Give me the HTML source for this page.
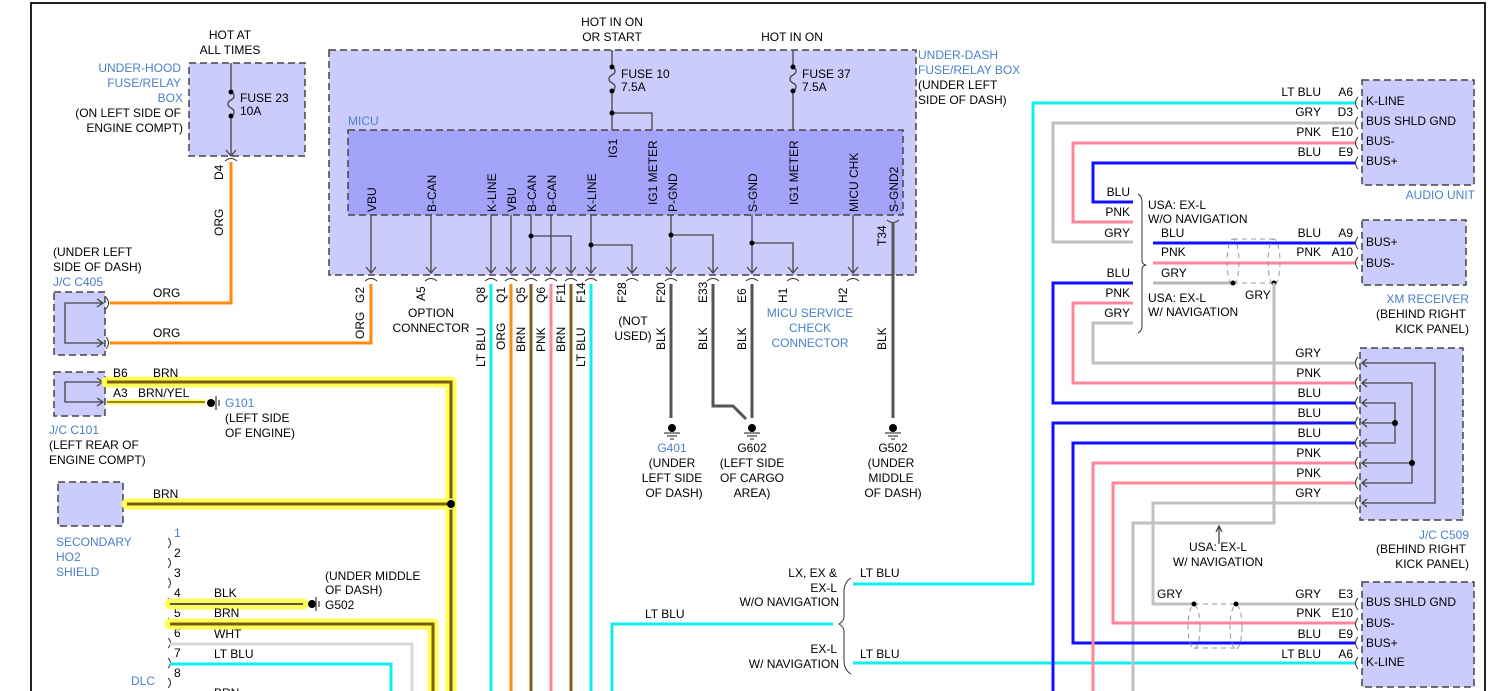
<!DOCTYPE html>
<html><head><meta charset="utf-8"><style>
html,body{margin:0;padding:0;background:#fff}
svg{display:block}
text{font-family:"Liberation Sans",Arial,sans-serif;font-size:12px;fill:#000}
.b{fill:#4a80c8}
.w{fill:none;stroke-width:3;stroke-linejoin:miter}
.t{fill:none;stroke:#444;stroke-width:1.3}
.box{fill:#ccccfc;stroke:#444;stroke-width:1.5;stroke-dasharray:7 4}
.hl{fill:none;stroke:#ffff55;stroke-width:11;stroke-linecap:round;stroke-linejoin:round}
.hc{fill:none;stroke:#7a5c10;stroke-width:3}
.c{fill:none;stroke:#333;stroke-width:1}
</style></head><body>
<svg width="1497" height="691" viewBox="0 0 1497 691" xmlns="http://www.w3.org/2000/svg">
<rect x="0" y="0" width="1497" height="691" fill="#fff"/>
<path d="M31 691V3H1485V691" fill="none" stroke="#222" stroke-width="2"/>

<rect class="box" x="189" y="63" width="116" height="93"/>
<text x="230" y="39" text-anchor="middle">HOT AT</text>
<text x="230" y="54" text-anchor="middle">ALL TIMES</text>
<text class="b" x="181" y="72" text-anchor="end">UNDER-HOOD</text>
<text class="b" x="181" y="87" text-anchor="end">FUSE/RELAY</text>
<text class="b" x="183" y="102" text-anchor="end">BOX</text>
<text x="181" y="117" text-anchor="end">(ON LEFT SIDE OF</text>
<text x="183" y="132" text-anchor="end">ENGINE COMPT)</text>
<path class="t" d="M231 63V92M231 116V156M226 150l5 6l5-6"/>
<path class="t" d="M231 92c4 2 4 6 0 8c-4 2-4 6 0 8c4 2 4 6 0 8"/>
<circle cx="231" cy="92" r="2.5"/><circle cx="231" cy="116" r="2.5"/>
<text x="240" y="102">FUSE 23</text><text x="240" y="115">10A</text>
<path class="c" d="M225 161q6 -5 12 0"/>
<text transform="translate(223,180) rotate(-90)">D4</text>
<text transform="translate(223,236) rotate(-90)">ORG</text>
<path class="w" stroke="#ff8a10" d="M231 162V303H110"/>
<path class="w" stroke="#ff8a10" d="M110 343H371V284"/>
<text x="153" y="297">ORG</text><text x="153" y="337">ORG</text>

<text x="53" y="256">(UNDER LEFT</text>
<text x="53" y="271">SIDE OF DASH)</text>
<text class="b" x="53" y="286">J/C C405</text>
<rect class="box" x="54" y="292" width="51" height="63"/>
<path class="t" d="M103 303H65V343H103M97 299l6 4l-6 4M97 339l6 4l-6 4"/>
<path class="c" d="M106 297q5 6 0 12M106 337q5 6 0 12"/>

<rect class="box" x="54" y="372" width="51" height="44"/>
<path class="t" d="M103 382H65V402H103M97 378l6 4l-6 4M97 398l6 4l-6 4"/>
<path class="hl" d="M107 382H451V691"/>
<path class="hc" d="M107 382H451V691"/>
<path fill="none" stroke="#ffff55" stroke-width="5" d="M107 402H205"/>
<path fill="none" stroke="#7a5c10" stroke-width="1.5" d="M107 402H205"/>
<circle cx="211" cy="403" r="4"/>
<path class="t" d="M216 396V410M219 400V406"/>
<text x="113" y="377">B6</text><text x="153" y="377">BRN</text>
<text x="113" y="397">A3</text><text x="138" y="397">BRN/YEL</text>
<text class="b" x="225" y="407">G101</text>
<text x="225" y="422">(LEFT SIDE</text><text x="225" y="437">OF ENGINE)</text>
<text class="b" x="49" y="434">J/C C101</text>
<text x="49" y="449">(LEFT REAR OF</text>
<text x="49" y="464">ENGINE COMPT)</text>

<rect class="box" x="58" y="482" width="65" height="44"/>
<path class="hl" d="M127 504H451"/>
<path class="hc" d="M127 504H451"/>
<circle cx="451" cy="504" r="4"/>
<text x="153" y="498">BRN</text>
<text class="b" x="56" y="546">SECONDARY</text>
<text class="b" x="56" y="561">HO2</text>
<text class="b" x="56" y="576">SHIELD</text>

<g class="c">
<path d="M168 538q5 5 0 10M168 558q5 5 0 10M168 578q5 5 0 10M168 598q5 5 0 10M168 618q5 5 0 10M168 638q5 5 0 10M168 658q5 5 0 10M168 678q5 5 0 10"/>
</g>
<text x="174" y="537" class="b">1</text><text x="174" y="557">2</text><text x="174" y="577">3</text><text x="174" y="597">4</text>
<text x="174" y="617">5</text><text x="174" y="637">6</text><text x="174" y="657">7</text><text x="174" y="677">8</text>
<path class="hl" d="M170 604H303"/>
<path fill="none" stroke="#555" stroke-width="2" d="M170 604H303"/>
<circle cx="312" cy="604" r="4"/><path class="t" d="M316 597V611M319 601V607"/>
<text x="214" y="597">BLK</text><text x="325" y="580">(UNDER MIDDLE</text><text x="325" y="594">OF DASH)</text><text x="325" y="609">G502</text>
<path class="hl" d="M170 624H433V691"/>
<path class="hc" d="M170 624H433V691"/>
<text x="214" y="617">BRN</text>
<path class="w" stroke="#d8d8d8" d="M170 644H412V691"/>
<text x="214" y="638">WHT</text>
<path class="w" stroke="#11eeee" d="M170 664H391V691"/>
<text x="214" y="658">LT BLU</text>
<text class="b" x="155" y="685" text-anchor="end">DLC</text>
<text x="214" y="697">BRN</text>

<rect class="box" x="329" y="50" width="587" height="225"/>
<text x="612" y="26" text-anchor="middle">HOT IN ON</text>
<text x="612" y="41" text-anchor="middle">OR START</text>
<text x="792" y="41" text-anchor="middle">HOT IN ON</text>
<text class="b" x="918" y="59">UNDER-DASH</text>
<text class="b" x="918" y="74">FUSE/RELAY BOX</text>
<text x="918" y="89">(UNDER LEFT</text>
<text x="918" y="104">SIDE OF DASH)</text>
<text class="b" x="348" y="125">MICU</text>
<rect x="348" y="130" width="555" height="85" fill="#a3a3fa" stroke="#444" stroke-width="1.5" stroke-dasharray="7 4"/>
<path class="t" d="M612 50V67M612 91V130M612 113H652V130"/>
<path class="t" d="M612 67c4 2 4 6 0 8c-4 2-4 6 0 8c4 2 4 6 0 8"/>
<circle cx="612" cy="67" r="2.5"/><circle cx="612" cy="91" r="2.5"/><circle cx="612" cy="113" r="2.5"/>
<text x="621" y="78">FUSE 10</text><text x="621" y="91">7.5A</text>
<path class="t" d="M793 50V67M793 91V130"/>
<path class="t" d="M793 67c4 2 4 6 0 8c-4 2-4 6 0 8c4 2 4 6 0 8"/>
<circle cx="793" cy="67" r="2.5"/><circle cx="793" cy="91" r="2.5"/>
<text x="802" y="78">FUSE 37</text><text x="802" y="91">7.5A</text>
<g>
<text transform="translate(376,212) rotate(-90)">VBU</text>
<text transform="translate(436,212) rotate(-90)">B-CAN</text>
<text transform="translate(496,212) rotate(-90)">K-LINE</text>
<text transform="translate(516,212) rotate(-90)">VBU</text>
<text transform="translate(536,212) rotate(-90)">B-CAN</text>
<text transform="translate(556,212) rotate(-90)">B-CAN</text>
<text transform="translate(596,212) rotate(-90)">K-LINE</text>
<text transform="translate(617,158) rotate(-90)">IG1</text>
<text transform="translate(657,205) rotate(-90)">IG1 METER</text>
<text transform="translate(677,212) rotate(-90)">P-GND</text>
<text transform="translate(757,212) rotate(-90)">S-GND</text>
<text transform="translate(798,205) rotate(-90)">IG1 METER</text>
<text transform="translate(858,212) rotate(-90)">MICU CHK</text>
<text transform="translate(898,212) rotate(-90)">S-GND2</text>
</g>
<path class="t" d="M371 215V273M431 215V273M491 215V273M511 215V273M531 215V273M551 215V273M591 215V273M671 215V273M752 215V273M853 215V273
M531 236H571V273M591 245H632V273M671 235H713V273M752 243H793V273"/>
<circle cx="531" cy="236" r="2.5"/><circle cx="591" cy="245" r="2.5"/><circle cx="671" cy="235" r="2.5"/><circle cx="752" cy="243" r="2.5"/>
<path class="t" d="M366 267l5 6l5-6M426 267l5 6l5-6M486 267l5 6l5-6M506 267l5 6l5-6M526 267l5 6l5-6M546 267l5 6l5-6M566 267l5 6l5-6M586 267l5 6l5-6M627 267l5 6l5-6M666 267l5 6l5-6M708 267l5 6l5-6M747 267l5 6l5-6M788 267l5 6l5-6M848 267l5 6l5-6"/>
<path class="c" d="M365 281q6-5 12 0M425 281q6-5 12 0M485 281q6-5 12 0M505 281q6-5 12 0M525 281q6-5 12 0M545 281q6-5 12 0M565 281q6-5 12 0M585 281q6-5 12 0M626 281q6-5 12 0M665 281q6-5 12 0M707 281q6-5 12 0M746 281q6-5 12 0M787 281q6-5 12 0M847 281q6-5 12 0M887 220q6 5 12 0"/>
<text transform="translate(364,303) rotate(-90)">G2</text>
<text transform="translate(364,339) rotate(-90)">ORG</text>
<text transform="translate(425,301) rotate(-90)">A5</text>
<text x="431" y="317" text-anchor="middle">OPTION</text>
<text x="431" y="332" text-anchor="middle">CONNECTOR</text>
<text transform="translate(485,303) rotate(-90)">Q8</text>
<text transform="translate(505,303) rotate(-90)">Q1</text>
<text transform="translate(525,303) rotate(-90)">Q5</text>
<text transform="translate(545,303) rotate(-90)">Q6</text>
<text transform="translate(565,303) rotate(-90)">F11</text>
<text transform="translate(585,303) rotate(-90)">F14</text>
<text transform="translate(626,303) rotate(-90)">F28</text>
<text transform="translate(665,303) rotate(-90)">F20</text>
<text transform="translate(707,303) rotate(-90)">E33</text>
<text transform="translate(746,303) rotate(-90)">E6</text>
<text transform="translate(787,303) rotate(-90)">H1</text>
<text transform="translate(847,303) rotate(-90)">H2</text>
<text transform="translate(886,246) rotate(-90)">T34</text>
<text transform="translate(485,367) rotate(-90)">LT BLU</text>
<text transform="translate(505,350) rotate(-90)">ORG</text>
<text transform="translate(525,352) rotate(-90)">BRN</text>
<text transform="translate(545,352) rotate(-90)">PNK</text>
<text transform="translate(565,352) rotate(-90)">BRN</text>
<text transform="translate(585,367) rotate(-90)">LT BLU</text>
<text x="633" y="325" text-anchor="middle">(NOT</text><text x="633" y="340" text-anchor="middle">USED)</text>
<text transform="translate(665,350) rotate(-90)">BLK</text>
<text transform="translate(707,350) rotate(-90)">BLK</text>
<text transform="translate(746,350) rotate(-90)">BLK</text>
<text transform="translate(886,350) rotate(-90)">BLK</text>
<text class="b" x="810" y="317" text-anchor="middle">MICU SERVICE</text>
<text class="b" x="810" y="332" text-anchor="middle">CHECK</text>
<text class="b" x="810" y="347" text-anchor="middle">CONNECTOR</text>
<path class="w" stroke="#11eeee" d="M491 284V691"/>
<path class="w" stroke="#ff8a10" d="M511 284V691"/>
<path class="w" stroke="#806020" d="M531 284V691"/>
<path class="w" stroke="#ff8599" d="M551 284V691"/>
<path class="w" stroke="#806020" d="M571 284V691"/>
<path class="w" stroke="#11eeee" d="M591 284V691"/>
<path class="w" stroke="#555" d="M671 284V418"/>
<path class="w" stroke="#555" d="M713 284V406H733L746 419"/>
<path class="w" stroke="#555" d="M752 284V418"/>
<path class="w" stroke="#555" d="M893 222V418"/>
<g>
<circle cx="672" cy="428" r="4"/><path class="t" d="M664 433H680M667 436H677M670 439H674"/>
<circle cx="752" cy="428" r="4"/><path class="t" d="M744 433H760M747 436H757M750 439H754"/>
<circle cx="893" cy="428" r="4"/><path class="t" d="M885 433H901M888 436H898M891 439H895"/>
</g>
<text class="b" x="672" y="452" text-anchor="middle">G401</text>
<text x="672" y="467" text-anchor="middle">(UNDER</text><text x="672" y="482" text-anchor="middle">LEFT SIDE</text><text x="674" y="497" text-anchor="middle">OF DASH)</text>
<text x="752" y="452" text-anchor="middle">G602</text>
<text x="752" y="467" text-anchor="middle">(LEFT SIDE</text><text x="752" y="482" text-anchor="middle">OF CARGO</text><text x="752" y="497" text-anchor="middle">AREA)</text>
<text x="893" y="452" text-anchor="middle">G502</text>
<text x="891" y="467" text-anchor="middle">(UNDER</text><text x="891" y="482" text-anchor="middle">MIDDLE</text><text x="893" y="497" text-anchor="middle">OF DASH)</text>

<path class="w" stroke="#11eeee" d="M612 691V624H833"/>
<text x="645" y="618">LT BLU</text>
<path class="c" d="M851 578q-7 4-7 14V617q0 4-5 7q5 3 5 7V660q0 10 7 14"/>
<text x="837" y="577" text-anchor="end">LX, EX &amp;</text>
<text x="837" y="592" text-anchor="end">EX-L</text>
<text x="839" y="606" text-anchor="end">W/O NAVIGATION</text>
<text x="837" y="653" text-anchor="end">EX-L</text>
<text x="839" y="668" text-anchor="end">W/ NAVIGATION</text>
<path class="w" stroke="#11eeee" d="M853 584H1033V103H1355"/>
<text x="860" y="577">LT BLU</text>
<path class="w" stroke="#11eeee" d="M853 663H1355"/>
<text x="860" y="658">LT BLU</text>

<rect class="box" x="1362" y="80" width="112" height="105"/>
<text x="1366" y="105">K-LINE</text><text x="1366" y="125">BUS SHLD GND</text><text x="1366" y="145">BUS-</text><text x="1366" y="165">BUS+</text>
<text class="b" x="1475" y="199" text-anchor="end">AUDIO UNIT</text>
<path class="w" stroke="#c0c0c0" d="M1355 123H1053V242H1133"/>
<path class="w" stroke="#ff8599" d="M1355 143H1073V222H1133"/>
<path class="w" stroke="#1010ff" d="M1355 163H1093V202H1133"/>
<text x="1321" y="96" text-anchor="end">LT BLU</text><text x="1353" y="96" text-anchor="end">A6</text>
<text x="1321" y="116" text-anchor="end">GRY</text><text x="1353" y="116" text-anchor="end">D3</text>
<text x="1321" y="136" text-anchor="end">PNK</text><text x="1353" y="136" text-anchor="end">E10</text>
<text x="1321" y="156" text-anchor="end">BLU</text><text x="1353" y="156" text-anchor="end">E9</text>
<path class="c" d="M1358 97q-5 6 0 12M1358 117q-5 6 0 12M1358 137q-5 6 0 12M1358 157q-5 6 0 12"/>
<text x="1130" y="196" text-anchor="end">BLU</text><text x="1130" y="216" text-anchor="end">PNK</text><text x="1130" y="237" text-anchor="end">GRY</text>
<text x="1148" y="209">USA: EX-L</text><text x="1148" y="223">W/O NAVIGATION</text>
<path class="c" d="M1138 194q4 2 4 8V261q0 3 4 4q-4 1-4 4V326q0 5-4 7"/>
<rect class="box" x="1362" y="220" width="104" height="65"/>
<text x="1366" y="246">BUS+</text><text x="1366" y="267">BUS-</text>
<text class="b" x="1469" y="303" text-anchor="end">XM RECEIVER</text>
<text x="1466" y="318" text-anchor="end">(BEHIND RIGHT</text><text x="1469" y="333" text-anchor="end">KICK PANEL)</text>
<path class="w" stroke="#1010ff" d="M1153 243H1355"/>
<path class="w" stroke="#ff8599" d="M1153 263H1355"/>
<path class="w" stroke="#b8b8b8" d="M1153 283H1233"/>
<text x="1161" y="237">BLU</text><text x="1161" y="256">PNK</text><text x="1161" y="277">GRY</text>
<text x="1321" y="237" text-anchor="end">BLU</text><text x="1353" y="237" text-anchor="end">A9</text>
<text x="1321" y="256" text-anchor="end">PNK</text><text x="1353" y="256" text-anchor="end">A10</text>
<path class="c" d="M1358 237q-5 6 0 12M1358 257q-5 6 0 12"/>
<g fill="none" stroke="#999" stroke-width="1" stroke-dasharray="5 4">
<ellipse cx="1233" cy="262" rx="6" ry="23"/><ellipse cx="1274" cy="262" rx="6" ry="23"/>
<path d="M1233 239H1274M1233 283H1274"/>
</g>
<circle cx="1233" cy="283" r="2.5"/><circle cx="1274" cy="283" r="2.5"/>
<path class="w" stroke="#c0c0c0" d="M1274 283V523H1133V691"/>
<text x="1245" y="299">GRY</text>
<text x="1130" y="277" text-anchor="end">BLU</text><text x="1130" y="297" text-anchor="end">PNK</text><text x="1130" y="317" text-anchor="end">GRY</text>
<text x="1148" y="302">USA: EX-L</text><text x="1148" y="316">W/ NAVIGATION</text>
<path class="w" stroke="#1010ff" d="M1133 283H1053V403H1355"/>
<path class="w" stroke="#ff8599" d="M1133 303H1073V383H1355"/>
<path class="w" stroke="#c0c0c0" d="M1133 323H1093V363H1355"/>
<rect class="box" x="1360" y="348" width="103" height="172"/>
<path class="w" stroke="#1010ff" d="M1355 423H1053V691"/>
<path class="w" stroke="#1010ff" d="M1355 443H1073V643H1355"/>
<path class="w" stroke="#ff8599" d="M1355 463H1093V691"/>
<path class="w" stroke="#ff8599" d="M1355 483H1113V623H1355"/>
<path class="w" stroke="#c0c0c0" d="M1355 503H1153V604H1193"/>
<path class="w" stroke="#c0c0c0" d="M1235 604H1355"/>
<path class="t" d="M1362 363H1435V503H1362M1362 383H1412V483H1362M1362 463H1412M1362 403H1395V443H1362M1362 423H1395"/>
<circle cx="1395" cy="423" r="3"/><circle cx="1412" cy="463" r="3"/>
<path class="c" d="M1358 357q-5 6 0 12M1358 377q-5 6 0 12M1358 397q-5 6 0 12M1358 417q-5 6 0 12M1358 437q-5 6 0 12M1358 457q-5 6 0 12M1358 477q-5 6 0 12M1358 497q-5 6 0 12"/>
<path class="t" d="M1367 359l-5 4l5 4M1367 379l-5 4l5 4M1367 399l-5 4l5 4M1367 419l-5 4l5 4M1367 439l-5 4l5 4M1367 459l-5 4l5 4M1367 479l-5 4l5 4M1367 499l-5 4l5 4"/>
<text x="1321" y="357" text-anchor="end">GRY</text><text x="1321" y="377" text-anchor="end">PNK</text><text x="1321" y="397" text-anchor="end">BLU</text><text x="1321" y="417" text-anchor="end">BLU</text>
<text x="1321" y="437" text-anchor="end">BLU</text><text x="1321" y="457" text-anchor="end">PNK</text><text x="1321" y="477" text-anchor="end">PNK</text><text x="1321" y="497" text-anchor="end">GRY</text>
<text class="b" x="1469" y="539" text-anchor="end">J/C C509</text>
<text x="1466" y="553" text-anchor="end">(BEHIND RIGHT</text><text x="1469" y="568" text-anchor="end">KICK PANEL)</text>
<path class="t" d="M1219 544V527M1216 532l3-6l3 6" fill="#000"/>
<text x="1218" y="551" text-anchor="middle">USA: EX-L</text>
<text x="1218" y="566" text-anchor="middle">W/ NAVIGATION</text>
<rect class="box" x="1362" y="582" width="112" height="105"/>
<text x="1366" y="606">BUS SHLD GND</text><text x="1366" y="627">BUS-</text><text x="1366" y="647">BUS+</text><text x="1366" y="666">K-LINE</text>
<path class="c" d="M1358 598q-5 6 0 12M1358 618q-5 6 0 12M1358 637q-5 6 0 12M1358 657q-5 6 0 12"/>
<text x="1321" y="598" text-anchor="end">GRY</text><text x="1353" y="598" text-anchor="end">E3</text>
<text x="1321" y="617" text-anchor="end">PNK</text><text x="1353" y="617" text-anchor="end">E10</text>
<text x="1321" y="638" text-anchor="end">BLU</text><text x="1353" y="638" text-anchor="end">E9</text>
<text x="1321" y="658" text-anchor="end">LT BLU</text><text x="1353" y="658" text-anchor="end">A6</text>
<text x="1157" y="598">GRY</text>
<g fill="none" stroke="#999" stroke-width="1" stroke-dasharray="5 4">
<ellipse cx="1194" cy="627" rx="6" ry="22"/><ellipse cx="1236" cy="627" rx="6" ry="22"/>
<path d="M1194 604H1236M1194 648H1236"/>
</g>
<circle cx="1194" cy="604" r="2.5"/><circle cx="1236" cy="604" r="2.5"/>
</svg>
</body></html>
